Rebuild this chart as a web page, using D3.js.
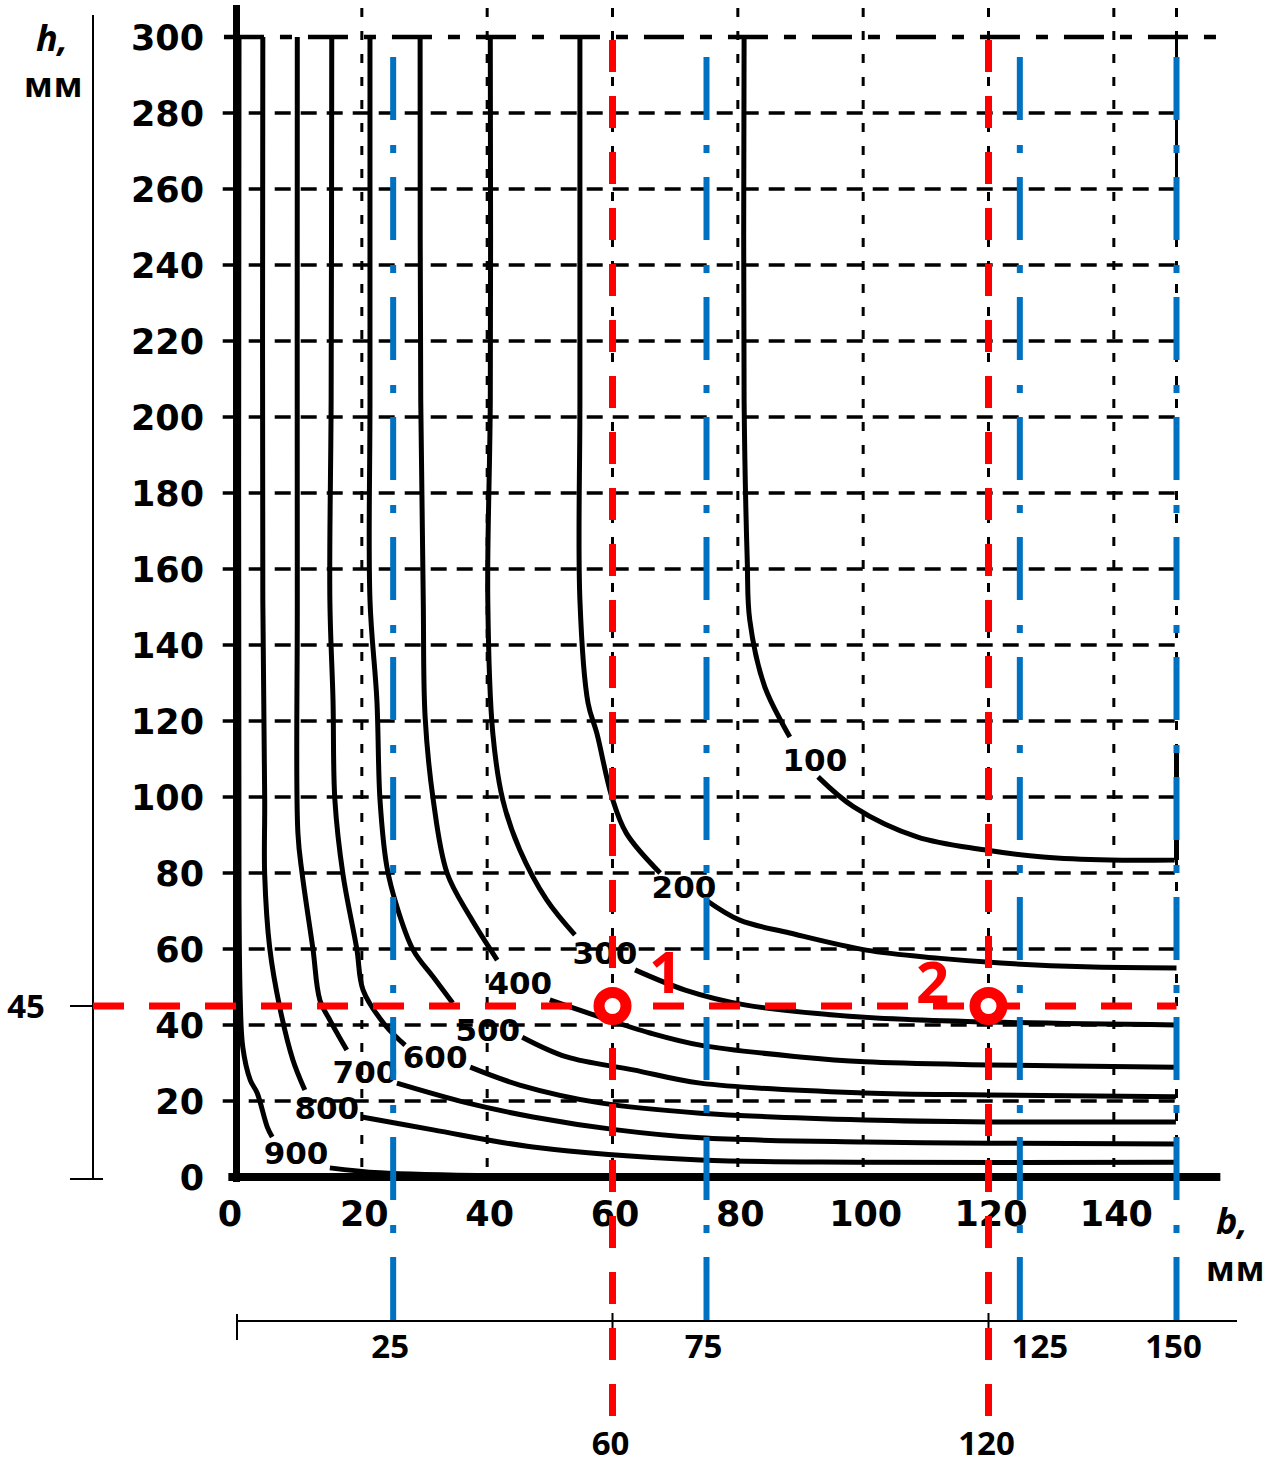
<!DOCTYPE html>
<html>
<head>
<meta charset="utf-8">
<script src="https://cdn.jsdelivr.net/npm/d3@7"></script>
<style>
  body { margin: 0; background: #fff; }
  svg { display: block; }
</style>
</head>
<body>
<svg id="chart" width="1269" height="1467"></svg>
<script>
// Уровни кривых (подписи на номограмме)
const levels = [100, 200, 300, 400, 500, 600, 700, 800, 900];

// Точки кривых [b, h]; null = разрыв линии под подписью
const curve100 = [[81,300],[81,204.5],[81.5,162.4],[81.9,146.6],[84.3,129],[88.3,115.8],null,
  [92.8,105.3],[98.5,97.4],[108.6,89.5],[119.3,86.1],[128.7,84.2],[139.4,83.4],[149.7,83.4],null,
  [150,83.4],[150,111.6]];
const curve200 = [[54.8,300],[54.8,204.5],[54.8,151.8],[56.1,124.7],[57.5,116.8],[59.9,100],[62.2,90.5],[67.6,80],null,
  [74.9,72.9],[80.3,67.6],[88.3,64.2],[100.5,59.7],[111.9,57.6],[122,56.3],[135.4,55.3],[150,55]];
const curve300 = [[40.5,300],[40.5,204.5],[40.1,151.8],[40.9,116.8],[42.5,99.2],[45.2,86.1],[49.5,72.9],[54,63.7],null,
  [63.6,54.5],[71.6,49.2],[81.1,45.3],[99.6,42.1],[120.1,40.8],[149.9,40]];
const curve400 = [[29.3,300],[29.4,204.5],[29.8,151.8],[30.1,121],[31.4,99.2],[33.6,80],[37.3,68.4],[41.6,57.1],null,
  [50,46.6],[58,42.1],[66,37.9],[74,34.7],[89.9,31.6],[100.3,30.3],[120.1,29.5],[149.9,28.9]];
const curve500 = [[21.3,300],[21.3,204.5],[21.3,151.8],[22.4,125.5],[22.9,99.2],[24,81.6],[25.6,71.1],[28.2,59.7],[31.4,52.6],[34.5,45.8],null,
  [45.6,36.8],[52.7,31.6],[63.3,28.2],[74,24.7],[100.3,22.1],[120.1,21.6],[149.9,21.1]];
const curve600 = [[15.2,300],[15.1,204.5],[14.9,151.8],[15.4,125.5],[15.7,99.2],[17,79.5],[19.2,60],[20.2,49.2],[23.7,40],[26.9,34.7],null,
  [37.3,28.9],[45.2,24.2],[58,19.5],[74,16.8],[100.3,15],[120.1,14.5],[149.9,14.5]];
const curve700 = [[9.7,300],[9.7,151.8],[9.8,90.5],[10.5,79.5],[12.2,60],[13.3,46.6],[14.9,41.3],[17.6,33.4],null,
  [25.6,24.7],[36.8,19.5],[47.3,15.8],[60.7,12.4],[74,10.3],[100.3,9.2],[120.1,8.9],[149.9,8.7]];
const curve800 = [[4.2,300],[4.2,151.8],[4.5,99.2],[4.5,79.5],[5.3,60.3],[6.9,44.7],[9,30.8],[10.9,22.9],null,
  [20,15.8],[31.4,12.4],[47.3,7.9],[74,4.5],[100.3,3.9],[149.9,3.9]];
const curve900 = [[0.4,300],[0.4,72.9],[0.6,46.6],[1,34.2],[2.2,25.5],[3.3,22.1],[4.9,13.2],[5.7,10.5],null,
  [14.9,2.4],[22.9,1.1],[42,0.3],[149.9,0.3]];

// Положение подписей кривых [b, h]
const labelPos = [[92.3,109.7],[71.4,76.3],[58.8,58.9],[45.2,51],[40.1,38.7],[31.7,31.6],[20.5,27.6],[14.4,18.2],[9.5,6.3]];

// Деления осей
const hTicks = [0,20,40,60,80,100,120,140,160,180,200,220,240,260,280,300];
const bTicks = [0,20,40,60,80,100,120,140];
const gridH = [20,40,60,80,100,120,140,160,180,200,220,240,260,280];
const gridB = [20,40,60,80,100,120,140,150];

// Построения поверх номограммы
const blueB = [25, 75, 125, 150];
const redB = [60, 120];
const redH = 45;
const points = [{ b: 60, h: 45, name: '1' }, { b: 120, h: 45, name: '2' }];

const curves = [curve100, curve200, curve300, curve400, curve500, curve600, curve700, curve800, curve900];

const svg = d3.select('#chart');

// Шкалы
const x = d3.scaleLinear().domain([0, 150]).range([236.5, 1176.5]);
const y = d3.scaleLinear().domain([0, 300]).range([1177, 37]);

const tickFont = '"DejaVu Sans", sans-serif';
const sansFont = '"Open Sans", "Noto Sans", sans-serif';

// Сетка: горизонтальные штрихи
svg.append('g').selectAll('line')
  .data(gridH).enter().append('line')
  .attr('x1', x(-2.2)).attr('x2', x(150.5))
  .attr('y1', d => y(d)).attr('y2', d => y(d))
  .attr('stroke', '#000').attr('stroke-width', 3.5)
  .attr('stroke-dasharray', '16,10');

// Сетка: вертикальные пунктиры
svg.append('g').selectAll('line')
  .data(gridB).enter().append('line')
  .attr('x1', d => x(d)).attr('x2', d => x(d))
  .attr('y1', 8).attr('y2', y(0))
  .attr('stroke', '#000').attr('stroke-width', 3)
  .attr('stroke-dasharray', '9,14');

// Верхняя рамка h = 300 (прерывистая)
svg.append('line')
  .attr('x1', x(-2)).attr('x2', x(157))
  .attr('y1', y(300)).attr('y2', y(300))
  .attr('stroke', '#000').attr('stroke-width', 4.5)
  .attr('stroke-dasharray', '40,16,12,16');

// Правая рамка (кусок сверху)
svg.append('line')
  .attr('x1', x(150)).attr('x2', x(150))
  .attr('y1', y(300)).attr('y2', y(245))
  .attr('stroke', '#000').attr('stroke-width', 3);

// Кривые
const line = d3.line()
  .defined(d => d)
  .x(d => x(d[0]))
  .y(d => y(d[1]))
  .curve(d3.curveCatmullRom.alpha(0.5));

svg.append('g').selectAll('path')
  .data(curves).enter().append('path')
  .attr('d', line)
  .attr('fill', 'none')
  .attr('stroke', '#000')
  .attr('stroke-width', 5)
  .attr('stroke-linejoin', 'round');

// Оси номограммы (толстые)
svg.append('line')
  .attr('x1', x(0)).attr('x2', x(0))
  .attr('y1', 5).attr('y2', y(0) + 5)
  .attr('stroke', '#000').attr('stroke-width', 7);
svg.append('line')
  .attr('x1', x(-1.3)).attr('x2', x(157))
  .attr('y1', y(0)).attr('y2', y(0))
  .attr('stroke', '#000').attr('stroke-width', 8);

// Подписи делений по h
const yAxis = svg.append('g')
  .attr('transform', 'translate(204,0)')
  .call(d3.axisLeft(y).tickValues(hTicks).tickSize(0).tickPadding(0).tickFormat(d3.format('d')));
yAxis.select('.domain').remove();
yAxis.selectAll('text')
  .attr('font-family', tickFont).attr('font-weight', 'bold').attr('font-size', 35)
  .attr('fill', '#000').attr('dy', '0.35em');

// Подписи делений по b
const xAxis = svg.append('g')
  .attr('transform', 'translate(2,1214)')
  .call(d3.axisBottom(x).tickValues(bTicks).tickSize(0).tickPadding(0).tickFormat(d3.format('d')));
xAxis.select('.domain').remove();
xAxis.selectAll('text')
  .attr('font-family', tickFont).attr('font-weight', 'bold').attr('font-size', 35)
  .attr('fill', '#000').attr('y', 0).attr('dy', '0.35em')
  .attr('dx', d => d === 0 ? -9 : 0);

// Подписи кривых
svg.append('g').selectAll('text')
  .data(levels).enter().append('text')
  .attr('x', (d, i) => x(labelPos[i][0]))
  .attr('y', (d, i) => y(labelPos[i][1]))
  .attr('dy', '0.35em')
  .attr('text-anchor', 'middle')
  .attr('font-family', tickFont).attr('font-weight', 'bold').attr('font-size', 31)
  .text(d => d);

// Названия осей
svg.append('text').attr('x', 36).attr('y', 51)
  .attr('font-family', sansFont).attr('font-weight', 'bold').attr('font-style', 'italic')
  .attr('font-size', 36).text('h,');
svg.append('text').attr('x', 24).attr('y', 97)
  .attr('font-family', sansFont).attr('font-weight', 'bold')
  .attr('font-size', 34).attr('letter-spacing', 1).text('мм');
svg.append('text').attr('x', 1216).attr('y', 1234)
  .attr('font-family', sansFont).attr('font-weight', 'bold').attr('font-style', 'italic')
  .attr('font-size', 36).text('b,');
svg.append('text').attr('x', 1206).attr('y', 1281)
  .attr('font-family', sansFont).attr('font-weight', 'bold')
  .attr('font-size', 34).attr('letter-spacing', 1).text('мм');

// Дополнительная ось h слева
svg.append('line').attr('x1', 93).attr('x2', 93).attr('y1', 15).attr('y2', y(0) + 2)
  .attr('stroke', '#000').attr('stroke-width', 2);
svg.append('line').attr('x1', 70).attr('x2', 103).attr('y1', y(0) + 2).attr('y2', y(0) + 2)
  .attr('stroke', '#000').attr('stroke-width', 2);
svg.append('line').attr('x1', 70).attr('x2', 103).attr('y1', y(redH)).attr('y2', y(redH))
  .attr('stroke', '#000').attr('stroke-width', 2);
svg.append('text').attr('x', 26).attr('y', y(redH)).attr('dy', '0.36em')
  .attr('text-anchor', 'middle')
  .attr('font-family', sansFont).attr('font-weight', 'bold').attr('font-size', 33)
  .text(redH);

// Дополнительная ось b снизу
const bAxisY = 1321;
svg.append('line').attr('x1', 237).attr('x2', 1237).attr('y1', bAxisY).attr('y2', bAxisY)
  .attr('stroke', '#000').attr('stroke-width', 2);
svg.append('line').attr('x1', 237).attr('x2', 237).attr('y1', bAxisY - 7).attr('y2', bAxisY + 19)
  .attr('stroke', '#000').attr('stroke-width', 2);
svg.append('g').selectAll('line')
  .data(redB).enter().append('line')
  .attr('x1', d => x(d)).attr('x2', d => x(d))
  .attr('y1', bAxisY - 8).attr('y2', bAxisY + 19)
  .attr('stroke', '#000').attr('stroke-width', 2);

// Синие штрихпунктирные линии
svg.append('g').selectAll('line')
  .data(blueB).enter().append('line')
  .attr('x1', d => x(d)).attr('x2', d => x(d))
  .attr('y1', 57).attr('y2', bAxisY)
  .attr('stroke', '#0070C0').attr('stroke-width', 6)
  .attr('stroke-dasharray', '63,25,8,24');

svg.append('g').selectAll('text')
  .data(blueB).enter().append('text')
  .attr('x', d => x(d) + (d === 125 ? 20 : -3))
  .attr('y', 1346).attr('dy', '0.36em')
  .attr('text-anchor', 'middle')
  .attr('font-family', sansFont).attr('font-weight', 'bold').attr('font-size', 33)
  .text(d => d);

// Красные штриховые линии
svg.append('g').selectAll('line')
  .data(redB).enter().append('line')
  .attr('x1', d => x(d)).attr('x2', d => x(d))
  .attr('y1', 40).attr('y2', 1417)
  .attr('stroke', '#FF0000').attr('stroke-width', 7)
  .attr('stroke-dasharray', '32,24');
svg.append('line')
  .attr('x1', 93).attr('x2', x(150))
  .attr('y1', y(redH)).attr('y2', y(redH))
  .attr('stroke', '#FF0000').attr('stroke-width', 7)
  .attr('stroke-dasharray', '31,25');

svg.append('g').selectAll('text')
  .data(redB).enter().append('text')
  .attr('x', d => x(d) - 2)
  .attr('y', 1443).attr('dy', '0.36em')
  .attr('text-anchor', 'middle')
  .attr('font-family', sansFont).attr('font-weight', 'bold').attr('font-size', 33)
  .text(d => d);

// Точки 1 и 2
svg.append('g').selectAll('circle')
  .data(points).enter().append('circle')
  .attr('cx', d => x(d.b)).attr('cy', d => y(d.h))
  .attr('r', 13.5)
  .attr('fill', '#fff')
  .attr('stroke', '#FF0000').attr('stroke-width', 11);

svg.append('g').selectAll('text')
  .data(points).enter().append('text')
  .attr('x', d => x(d.b) + (d.name === '1' ? 53 : -56))
  .attr('y', d => y(d.h) + (d.name === '1' ? -34 : -24))
  .attr('dy', '0.36em')
  .attr('text-anchor', 'middle')
  .attr('font-family', sansFont).attr('font-weight', 'bold').attr('font-size', 58)
  .attr('fill', '#FF0000')
  .text(d => d.name);
</script>
</body>
</html>
